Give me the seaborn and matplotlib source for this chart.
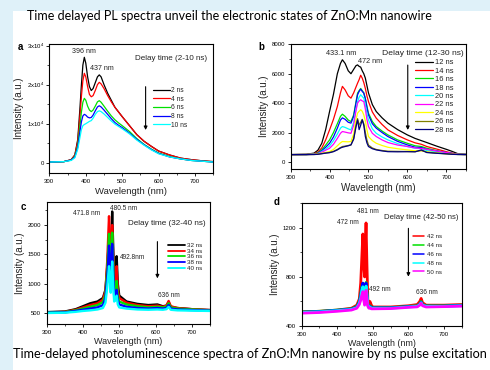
import numpy as np
import pandas as pd
import matplotlib
matplotlib.use('Agg')
import matplotlib.pyplot as plt
import seaborn as sns
from matplotlib.patches import Rectangle
from matplotlib.ticker import MultipleLocator

# ---------------- Panel a (intensity in units of 1e4) ----------------
A_WL = [300, 340, 360, 370, 378, 384, 388, 392, 396, 400, 405, 410, 415, 420, 426, 432, 437, 442,
        450, 460, 470, 480, 490, 500, 520, 540, 560, 580, 600, 630, 660, 690, 720, 750]
A_2NS = [.02, .03, .08, .2, .6, 1.4, 2.0, 2.5, 2.7, 2.55, 2.2, 1.95, 1.85, 1.9, 2.05, 2.2, 2.25, 2.2,
         2.0, 1.78, 1.6, 1.42, 1.3, 1.18, .95, .72, .55, .42, .3, .2, .12, .08, .05, .03]
A_4NS = [.02, .03, .08, .2, .55, 1.2, 1.7, 2.1, 2.29, 2.2, 1.95, 1.75, 1.69, 1.72, 1.85, 2.0, 2.06, 2.02,
         1.9, 1.72, 1.56, 1.42, 1.3, 1.18, .95, .72, .55, .42, .3, .2, .12, .08, .05, .03]
A_6NS = [.02, .03, .07, .17, .45, .95, 1.3, 1.55, 1.65, 1.6, 1.45, 1.35, 1.31, 1.35, 1.45, 1.56, 1.59, 1.55,
         1.45, 1.32, 1.2, 1.1, 1.02, .95, .8, .62, .47, .35, .25, .16, .1, .06, .04, .02]
A_8NS = [.02, .03, .07, .15, .4, .8, 1.05, 1.2, 1.24, 1.22, 1.17, 1.15, 1.16, 1.22, 1.33, 1.43, 1.46, 1.43,
         1.35, 1.24, 1.13, 1.03, .96, .9, .76, .6, .46, .34, .24, .15, .1, .06, .04, .02]
A_10NS = [.02, .03, .06, .13, .35, .65, .85, .95, .98, 1.0, 1.03, 1.06, 1.08, 1.14, 1.24, 1.31, 1.33, 1.31,
          1.25, 1.16, 1.07, .99, .93, .87, .74, .58, .45, .33, .23, .15, .1, .06, .04, .02]
A_DELAYS = ['2 ns', '4 ns', '6 ns', '8 ns', '10 ns']
A_COLORS = ['#000000', '#ff0000', '#00e000', '#0000ff', '#00ffff']
A_YTICKS = [0, 1, 2, 3]
A_YLABELS = ['0', '1x10$^4$', '2x10$^4$', '3x10$^4$']

# ---------------- Panel b ----------------
B_WL = [300, 340, 360, 370, 380, 390, 400, 410, 420, 428, 433, 440, 448, 455, 462, 468, 472, 476, 480,
        484, 488, 492, 496, 500, 510, 520, 535, 550, 575, 600, 620, 636, 650, 675, 700, 715, 730, 750]
B_12NS = [500, 520, 600, 800, 1270, 2200, 3430, 4600, 6000, 6700, 6950, 6700, 6200, 6000, 6300, 6550, 6600, 6500, 6450,
          6200, 6000, 5700, 5200, 4700, 3900, 3430, 3000, 2640, 2200, 1840, 1600, 1450, 1320, 1080, 860, 720, 560, 520]
B_14NS = [500, 510, 560, 680, 950, 1500, 2180, 2900, 3770, 4700, 5140, 4900, 4500, 4340, 4700, 5100, 5360, 5600, 5900,
          5700, 5400, 5000, 4500, 4110, 3400, 2980, 2550, 2180, 1800, 1500, 1300, 1200, 1050, 880, 700, 600, 520, 510]
B_16NS = [500, 505, 540, 620, 820, 1150, 1500, 2000, 2600, 3100, 3250, 3100, 2850, 2750, 3200, 4100, 4680, 4850, 5000,
          4850, 4700, 4300, 3800, 3320, 2750, 2410, 2100, 1840, 1500, 1270, 1100, 1050, 930, 780, 640, 580, 520, 510]
B_18NS = [500, 505, 530, 590, 760, 1000, 1270, 1700, 2300, 2850, 3000, 2900, 2700, 2640, 3100, 4000, 4570, 4800, 4950,
          4800, 4680, 4300, 3700, 3200, 2600, 2300, 2000, 1730, 1400, 1160, 1000, 980, 860, 740, 640, 580, 520, 510]
B_20NS = [500, 505, 525, 570, 700, 880, 1090, 1450, 1900, 2300, 2410, 2350, 2250, 2180, 2700, 3600, 4110, 4400, 4570,
          4450, 4340, 3900, 3300, 2860, 2250, 1950, 1700, 1500, 1250, 1050, 930, 900, 770, 680, 590, 550, 515, 505]
B_22NS = [500, 505, 520, 560, 660, 800, 930, 1200, 1600, 1950, 2070, 2030, 1980, 1950, 2500, 3500, 4000, 4150, 4230,
          4150, 4110, 3600, 2900, 2410, 1950, 1730, 1500, 1320, 1150, 1050, 950, 920, 860, 750, 640, 580, 520, 505]
B_24NS = [500, 505, 515, 540, 600, 650, 700, 850, 1100, 1300, 1390, 1380, 1370, 1390, 1900, 2900, 3320, 3450, 3550,
          3450, 3200, 2800, 2200, 1730, 1450, 1270, 1120, 1000, 900, 820, 760, 760, 700, 620, 550, 530, 510, 505]
B_26NS = [500, 505, 510, 530, 570, 610, 650, 720, 850, 980, 1050, 1080, 1120, 1160, 1600, 2500, 2950, 2500, 2700,
          2900, 2600, 2000, 1500, 1150, 950, 850, 780, 730, 720, 710, 700, 780, 660, 600, 560, 530, 510, 505]
B_28NS = [500, 500, 505, 520, 560, 600, 630, 700, 820, 950, 1000, 1050, 1100, 1160, 1550, 2400, 2860, 2200, 2500,
          2860, 2500, 1730, 1300, 1050, 900, 820, 750, 700, 690, 700, 690, 820, 640, 590, 550, 520, 505, 500]
B_DELAYS = ['12 ns', '14 ns', '16 ns', '18 ns', '20 ns', '22 ns', '24 ns', '26 ns', '28 ns']
B_COLORS = ['#000000', '#ff0000', '#00e000', '#0000ff', '#00ffff', '#ff00ff', '#ffff00', '#808000', '#000080']
B_YTICKS = [0, 2000, 4000, 6000, 8000]
B_YLABELS = ['0', '2000', '4000', '6000', '8000']

# ---------------- Panel c ----------------
C_WL = [300, 350, 380, 400, 420, 440, 455, 462, 467, 471.8, 474, 476.5, 478, 480.5, 483, 486, 489, 492.8,
        496, 500, 520, 550, 580, 605, 620, 630, 636, 642, 660, 700, 750]
C_32NS = [520, 530, 570, 620, 670, 700, 760, 900, 1300, 1750, 1500, 1300, 1700, 2230, 1700, 1050, 1200, 1470,
          1000, 800, 700, 660, 640, 650, 620, 630, 690, 610, 590, 570, 555]
C_34NS = [515, 525, 560, 600, 640, 670, 730, 880, 1400, 2150, 1800, 1300, 1500, 2000, 1500, 950, 1050, 1300,
          900, 760, 680, 640, 620, 630, 610, 630, 710, 620, 590, 570, 555]
C_36NS = [515, 520, 550, 580, 610, 640, 690, 820, 1250, 1850, 1500, 1150, 1400, 1870, 1400, 880, 920, 1050,
          800, 700, 650, 620, 600, 610, 600, 610, 670, 600, 580, 565, 550]
C_38NS = [510, 515, 540, 560, 580, 600, 640, 760, 1100, 1650, 1350, 1000, 1250, 1680, 1250, 800, 820, 900,
          720, 650, 610, 590, 580, 590, 580, 590, 640, 580, 565, 555, 545]
C_40NS = [505, 510, 525, 540, 550, 565, 590, 680, 950, 1300, 1100, 850, 1050, 1380, 1000, 700, 720, 800,
          650, 600, 580, 565, 560, 565, 560, 570, 610, 560, 550, 545, 540]
C_DELAYS = ['32 ns', '34 ns', '36 ns', '38 ns', '40 ns']
C_COLORS = ['#000000', '#ff0000', '#00e000', '#0000ff', '#00ffff']
C_YTICKS = [500, 1000, 1500, 2000]
C_YLABELS = ['500', '1000', '1500', '2000']

# ---------------- Panel d ----------------
D_WL = [300, 350, 400, 440, 455, 462, 466, 469, 472, 474.5, 477, 479, 481, 483.5, 486, 489, 492, 496,
        500, 550, 600, 625, 632, 636, 640, 650, 700, 750]
D_42NS = [515, 520, 530, 545, 570, 620, 750, 950, 1150, 900, 800, 1050, 1240, 900, 620, 580, 600, 570,
          555, 555, 565, 575, 600, 625, 590, 570, 570, 575]
D_44NS = [515, 520, 530, 540, 560, 600, 660, 720, 745, 660, 600, 700, 755, 680, 580, 560, 565, 555,
          550, 550, 560, 565, 580, 600, 575, 565, 565, 570]
D_46NS = [512, 518, 528, 538, 555, 595, 650, 710, 750, 650, 600, 690, 750, 670, 575, 555, 560, 550,
          548, 548, 558, 562, 578, 595, 572, 562, 562, 568]
D_48NS = [510, 515, 525, 535, 550, 585, 630, 690, 720, 640, 590, 670, 725, 650, 570, 550, 555, 545,
          545, 545, 555, 560, 575, 590, 570, 560, 560, 565]
D_50NS = [505, 510, 520, 530, 545, 575, 610, 650, 680, 610, 570, 640, 690, 620, 560, 545, 548, 540,
          540, 542, 552, 556, 570, 585, 565, 555, 558, 562]
D_DELAYS = ['42 ns', '44 ns', '46 ns', '48 ns', '50 ns']
D_COLORS = ['#ff0000', '#00e000', '#0000ff', '#00ffff', '#ff00ff']
D_YTICKS = [400, 800, 1200]
D_YLABELS = ['400', '800', '1200']

X_TICKS = [300, 400, 500, 600, 700]

sns.set_theme(style='ticks')
plt.rcParams['font.family'] = ['Liberation Sans', 'DejaVu Sans']
plt.rcParams['mathtext.fontset'] = 'custom'
plt.rcParams['mathtext.rm'] = 'Liberation Sans'
plt.rcParams['mathtext.default'] = 'regular'
plt.rcParams['axes.edgecolor'] = 'black'
plt.rcParams['xtick.color'] = 'black'
plt.rcParams['ytick.color'] = 'black'
plt.rcParams['text.color'] = '#222222'
plt.rcParams['axes.labelcolor'] = '#222222'

fig = plt.figure(figsize=(4.9, 3.7), dpi=100)
fig.patch.set_facecolor('white')
BG = '#dff1f9'
fig.patches.append(Rectangle((0, 1 - 11 / 370), 1, 11 / 370, transform=fig.transFigure,
                             facecolor=BG, edgecolor='none', zorder=0))
fig.patches.append(Rectangle((0, 0), 13 / 490, 1, transform=fig.transFigure,
                             facecolor=BG, edgecolor='none', zorder=0))


def draw_panel(rect, wl, series, delays, colors, lw, ylim, yticks, ylabels, yminor,
               xlab_size, leg):
    ax = fig.add_axes(rect)
    frames = [pd.DataFrame({'wl': wl, 'I': vals, 'delay': d}) for d, vals in zip(delays, series)]
    df = pd.concat(frames, ignore_index=True)
    sns.lineplot(data=df, x='wl', y='I', hue='delay', hue_order=delays,
                 palette=dict(zip(delays, colors)), estimator=None, sort=False,
                 linewidth=lw, ax=ax)
    ax.set_xlim(300, 750)
    ax.set_ylim(*ylim)
    ax.set_xticks(X_TICKS)
    ax.set_xticklabels([str(t) for t in X_TICKS])
    ax.xaxis.set_minor_locator(MultipleLocator(50))
    ax.set_yticks(yticks)
    ax.set_yticklabels(ylabels)
    ax.yaxis.set_minor_locator(MultipleLocator(yminor))
    ax.tick_params(which='major', direction='out', length=2.5, width=0.6, labelsize=4.3, pad=1.5)
    ax.tick_params(which='minor', direction='out', length=1.5, width=0.5)
    for s in ax.spines.values():
        s.set_visible(True)
        s.set_linewidth(0.8)
        s.set_color('black')
    ax.set_xlabel('Wavelength (nm)', fontsize=xlab_size, labelpad=2)
    ax.set_ylabel('Intensity (a.u.)', fontsize=7, labelpad=2)
    h, l = ax.get_legend_handles_labels()
    lg = ax.legend(h, l, loc='upper left', bbox_to_anchor=(leg['x'], leg['y']), frameon=False,
                   fontsize=leg['fs'], handlelength=leg['hl'], handletextpad=leg['tp'],
                   labelspacing=leg['ls'], borderpad=0, borderaxespad=0)
    for ln in lg.get_lines():
        ln.set_linewidth(leg['lw'])
    ax.annotate('', xy=(leg['ax'], leg['ay1']), xytext=(leg['ax'], leg['ay0']),
                xycoords='axes fraction', textcoords='axes fraction',
                arrowprops=dict(arrowstyle='-|>', color='black', lw=0.8, mutation_scale=5,
                                shrinkA=0, shrinkB=0))
    return ax


axA = draw_panel([0.1007, 0.5315, 0.3347, 0.3495], A_WL, [A_2NS, A_4NS, A_6NS, A_8NS, A_10NS],
                 A_DELAYS, A_COLORS, 0.9, (-0.27, 3.04), A_YTICKS, A_YLABELS, 0.5, 6.8,
                 dict(x=0.63, y=0.666, fs=4.8, hl=2.55, tp=0.25, ls=0.24, lw=0.9,
                      ax=0.587, ay0=0.67, ay1=0.335))
axA.text(396, 2.86, '396 nm', fontsize=5.1, ha='center', va='center')
axA.text(445, 2.42, '437 nm', fontsize=5.1, ha='center', va='center')
axA.text(635, 2.67, 'Delay time (2-10 ns)', fontsize=5.8, ha='center', va='center')

axB = draw_panel([0.5932, 0.5424, 0.3572, 0.3386], B_WL,
                 [B_12NS, B_14NS, B_16NS, B_18NS, B_20NS, B_22NS, B_24NS, B_26NS, B_28NS],
                 B_DELAYS, B_COLORS, 0.9, (-500, 8020), B_YTICKS, B_YLABELS, 1000, 7.1,
                 dict(x=0.712, y=0.881, fs=5.4, hl=2.3, tp=0.36, ls=0.16, lw=0.9,
                      ax=0.669, ay0=0.832, ay1=0.314))
axB.text(430, 7360, '433.1 nm', fontsize=5.2, ha='center', va='center')
axB.text(503, 6800, '472 nm', fontsize=5.2, ha='center', va='center')
axB.text(641, 7360, 'Delay time (12-30 ns)', fontsize=6.1, ha='center', va='center')

axC = draw_panel([0.0952, 0.1243, 0.3334, 0.3289], C_WL, [C_32NS, C_34NS, C_36NS, C_38NS, C_40NS],
                 C_DELAYS, C_COLORS, 1.7, (318, 2386), C_YTICKS, C_YLABELS, 250, 6.5,
                 dict(x=0.745, y=0.668, fs=4.5, hl=2.67, tp=0.27, ls=0.05, lw=1.3,
                      ax=0.678, ay0=0.677, ay1=0.375))
axC.text(411, 2190, '471.8 nm', fontsize=4.7, ha='center', va='center')
axC.text(475, 2280, '480.5 nm', fontsize=4.7, ha='left', va='center')
axC.text(501, 1455, '492.8nm', fontsize=4.7, ha='left', va='center')
axC.text(636, 810, '636 nm', fontsize=4.7, ha='center', va='center')
axC.text(631, 2030, 'Delay time (32-40 ns)', fontsize=5.9, ha='center', va='center')

axD = draw_panel([0.6157, 0.1189, 0.3265, 0.3316], D_WL, [D_42NS, D_44NS, D_46NS, D_48NS, D_50NS],
                 D_DELAYS, D_COLORS, 2.0, (400, 1400), D_YTICKS, D_YLABELS, 200, 6.4,
                 dict(x=0.698, y=0.752, fs=4.4, hl=1.8, tp=0.38, ls=0.59, lw=1.1,
                      ax=0.667, ay0=0.796, ay1=0.402))
axD.text(429, 1246, '472 nm', fontsize=4.7, ha='center', va='center')
axD.text(485, 1332, '481 nm', fontsize=4.7, ha='center', va='center')
axD.text(489, 697, '492 nm', fontsize=4.7, ha='left', va='center')
axD.text(651, 670, '636 nm', fontsize=4.7, ha='center', va='center')
axD.text(637, 1281, 'Delay time (42-50 ns)', fontsize=5.6, ha='center', va='center')

for lbl, (px, py) in zip(['a', 'b', 'c', 'd'], [(20, 47), (261, 47), (23, 207), (277, 202)]):
    fig.text(px / 490, 1 - py / 370, lbl, fontsize=7, fontweight='bold', ha='center', va='center',
             color='black')

fig.text(27 / 490, 1 - 16 / 370,
         'Time delayed PL spectra unveil the electronic states of ZnO:Mn nanowire',
         fontsize=9, family=['Lato', 'DejaVu Sans'], ha='left', va='center', color='black')
fig.text(13 / 490, 1 - 354 / 370,
         'Time-delayed photoluminescence spectra of ZnO:Mn nanowire by ns pulse excitation',
         fontsize=9.05, family=['Lato', 'DejaVu Sans'], ha='left', va='center', color='black')

fig.savefig('out.png', dpi=100, facecolor='white')
